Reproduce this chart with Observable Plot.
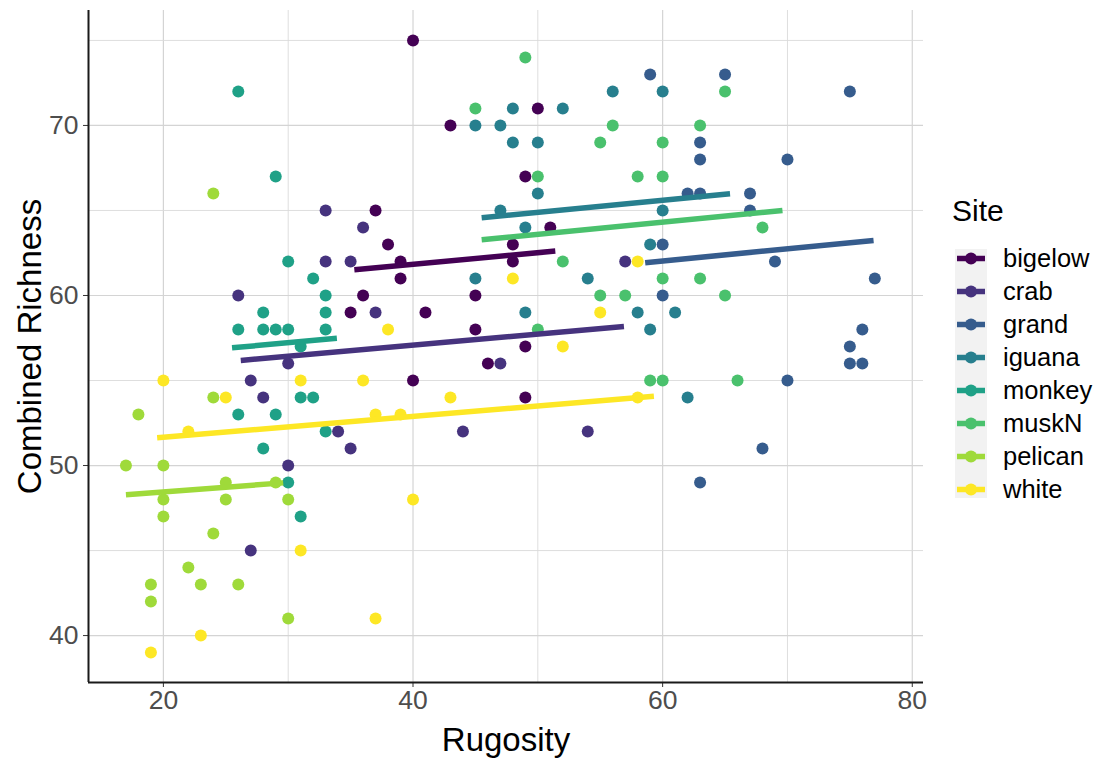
<!DOCTYPE html>
<html><head><meta charset="utf-8">
<script src="https://cdn.jsdelivr.net/npm/d3@7"></script>
<script src="https://cdn.jsdelivr.net/npm/@observablehq/plot@0.6"></script>
<style>
body{margin:0;background:#fff;font-family:"Liberation Sans",Arial,sans-serif;}
#wrap{position:relative;width:1105px;height:759px;overflow:hidden;}
#chart{position:absolute;left:0;top:0;}
#legend{position:absolute;left:953px;top:195px;width:150px;height:320px;}
#legend .title{position:absolute;left:-1px;top:-1px;font-size:30px;line-height:34px;color:#000;}
#legend .bg{position:absolute;left:2px;top:54px;width:32px;height:249px;background:#f2f2f2;}
#legend .row{position:absolute;left:2px;height:33px;}
#legend .lab{position:absolute;left:48px;top:0;line-height:33px;font-size:25.5px;color:#000;white-space:nowrap;}
</style></head><body>
<div id="wrap"><div id="chart"></div><div id="legend"></div></div>
<script>
const sites = ["bigelow","crab","grand","iguana","monkey","muskN","pelican","white"];
const siteColors = ["#440154","#46337E","#365C8D","#277F8E","#1FA187","#4AC16D","#9FDA3A","#FDE725"];

const bigelowRugosity = [40,50,43,49,37,51,48,38,36,35,39,48,39,45,41,45,49,46,40,49];
const bigelowRichness = [75,71,70,67,65,64,63,63,60,59,62,62,61,60,59,58,57,56,55,54];
const crabRugosity = [33,36,33,35,26,30,27,28,34,35,37,47,57,44,54,30,27];
const crabRichness = [65,64,62,62,60,56,55,54,52,51,59,56,62,52,52,50,45];
const grandRugosity = [59,65,75,63,63,70,62,63,67,67,60,69,77,60,76,75,75,76,70,68,63];
const grandRichness = [73,73,72,69,68,68,66,66,66,65,63,62,61,60,58,57,56,56,55,51,49];
const iguanaRugosity = [48,52,56,45,47,48,50,50,47,49,60,60,59,45,54,49,58,61,59,62];
const iguanaRichness = [71,71,72,70,70,69,69,66,65,64,72,65,63,61,61,59,59,59,58,54];
const monkeyRugosity = [26,29,30,32,33,28,33,26,28,29,30,33,31,31,32,26,29,33,28,30,31];
const monkeyRichness = [72,67,62,61,60,59,59,58,58,58,58,58,57,54,54,53,53,52,51,49,47];
const muskNRugosity = [49,45,56,55,50,58,65,63,60,60,68,52,55,57,50,60,63,65,59,60,66];
const muskNRichness = [74,71,70,69,67,67,72,70,69,67,64,62,60,60,58,61,61,60,55,55,55];
const pelicanRugosity = [24,24,18,17,20,25,29,20,25,30,20,24,22,19,23,26,19,30];
const pelicanRichness = [66,54,53,50,50,49,49,48,48,48,47,46,44,43,43,43,42,41];
const whiteRugosity = [20,31,36,25,22,58,48,55,38,52,43,37,39,58,40,31,37,23,19];
const whiteRichness = [55,55,55,54,52,62,61,59,58,57,54,53,53,54,48,45,41,40,39];

// fitted lm lines: start/end rugosity and fitted richness
const fitStartX = [35.3, 26.2, 58.6, 45.5, 25.5, 45.5, 17.0, 19.5];
const fitEndX   = [51.4, 56.9, 76.9, 65.4, 33.9, 69.6, 29.6, 59.3];
const fitStartY = [61.51, 56.18, 61.93, 64.57, 56.92, 63.28, 48.28, 51.63];
const fitEndY   = [62.61, 58.18, 63.24, 65.98, 57.49, 65.00, 48.98, 54.08];

const xTicks = [20, 40, 60, 80];
const xMinor = [30, 50, 70];
const yTicks = [40, 50, 60, 70];
const yMinor = [45, 55, 65, 75];
const xDomain = [14, 80.9];
const yDomain = [37.24, 76.76];

const rug = {bigelow: bigelowRugosity, crab: crabRugosity, grand: grandRugosity, iguana: iguanaRugosity,
  monkey: monkeyRugosity, muskN: muskNRugosity, pelican: pelicanRugosity, white: whiteRugosity};
const ric = {bigelow: bigelowRichness, crab: crabRichness, grand: grandRichness, iguana: iguanaRichness,
  monkey: monkeyRichness, muskN: muskNRichness, pelican: pelicanRichness, white: whiteRichness};

const points = [];
for (const s of sites) rug[s].forEach((x, i) => points.push({site: s, rugosity: x, richness: ric[s][i]}));
const fits = sites.map((s, i) => ({site: s, x0: fitStartX[i], x1: fitEndX[i], y0: fitStartY[i], y1: fitEndY[i]}));

const font = "'Liberation Sans', Arial, sans-serif";
const chart = Plot.plot({
  width: 930, height: 759,
  marginLeft: 88, marginRight: 7, marginTop: 10, marginBottom: 77,
  x: {domain: xDomain},
  y: {domain: yDomain},
  color: {domain: sites, range: siteColors},
  style: {fontFamily: font, background: "white", overflow: "visible"},
  marks: [
    Plot.gridX(xMinor, {stroke: "#dadada", strokeOpacity: 1, strokeWidth: 0.9}),
    Plot.gridX(xTicks, {stroke: "#d4d4d4", strokeOpacity: 1, strokeWidth: 1.2}),
    Plot.gridY(yMinor, {stroke: "#dadada", strokeOpacity: 1, strokeWidth: 0.9}),
    Plot.gridY(yTicks, {stroke: "#d4d4d4", strokeOpacity: 1, strokeWidth: 1.2}),
    Plot.axisX(xTicks, {tickSize: 5, tickPadding: 3, fontSize: 26.5, fill: "#4d4d4d", stroke: "#333333", label: null}),
    Plot.axisY(yTicks, {tickSize: 5, tickPadding: 5, fontSize: 26.5, fill: "#4d4d4d", stroke: "#333333", label: null}),
    Plot.ruleX([xDomain[0]], {stroke: "#1a1a1a", strokeWidth: 2}),
    Plot.ruleY([yDomain[0]], {stroke: "#1a1a1a", strokeWidth: 2}),
    Plot.dot(points, {x: "rugosity", y: "richness", fill: "site", r: 6}),
    Plot.link(fits, {x1: "x0", y1: "y0", x2: "x1", y2: "y1", stroke: "site", strokeWidth: 5.5, strokeLinecap: "butt"}),
    Plot.text(["Rugosity"], {frameAnchor: "bottom", dy: 58, fontSize: 33, fill: "black", textAnchor: "middle", lineAnchor: "middle"}),
    Plot.text(["Combined Richness"], {frameAnchor: "left", dx: -58, rotate: -90, fontSize: 33, fill: "black", textAnchor: "middle", lineAnchor: "middle"})
  ]
});
document.getElementById("chart").appendChild(chart);

// legend
const lg = document.getElementById("legend");
lg.innerHTML = '<div class="title">Site</div><div class="bg"></div>';
sites.forEach((s, i) => {
  const row = document.createElement("div");
  row.className = "row";
  const cy = 63 + 33 * i;
  row.style.top = (cy - 16.5) + "px";
  row.innerHTML = `<svg width="32" height="33" style="position:absolute;left:0;top:0">
    <line x1="2" x2="30" y1="16.5" y2="16.5" stroke="${siteColors[i]}" stroke-width="5.5"/>
    <circle cx="16" cy="16.5" r="6" fill="${siteColors[i]}"/></svg>
    <div class="lab">${s}</div>`;
  lg.appendChild(row);
});
</script>
</body></html>
